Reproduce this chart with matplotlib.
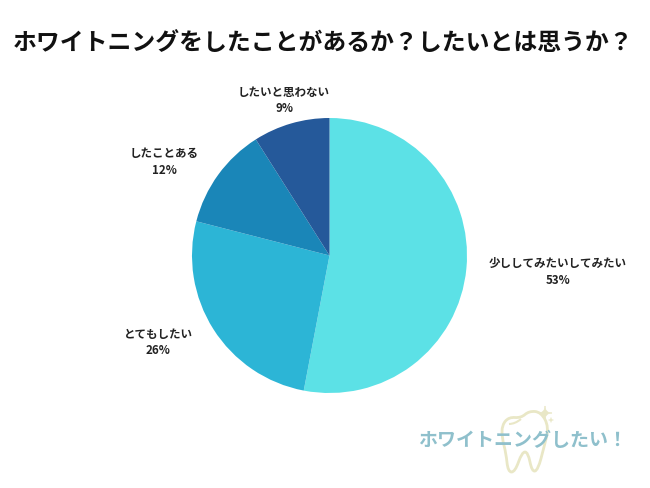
import matplotlib
matplotlib.use("Agg")
import matplotlib.pyplot as plt
from matplotlib.path import Path
from matplotlib.patches import PathPatch

plt.rcParams["font.family"] = "Noto Sans CJK JP"

TITLE = "ホワイトニングをしたことがあるか？したいとは思うか？"
categories = ["少ししてみたいしてみたい", "とてもしたい", "したことある", "したいと思わない"]
values = [53, 26, 12, 9]
colors = ["#5CE1E6", "#2CB5D6", "#1A86B8", "#25599A"]
label_pos = [(558, 271), (158, 342), (164, 161), (284, 100)]
W, H = 650, 488

fig = plt.figure(figsize=(W / 100, H / 100), dpi=100, facecolor="white")
ax = fig.add_axes([0, 0, 1, 1])
ax.pie(values, colors=colors, startangle=90, counterclock=False,
       center=(329.5, H - 255.5), radius=137.5, frame=True)
ax.set_xlim(0, W)
ax.set_ylim(0, H)
ax.set_aspect("equal")
ax.axis("off")

ax.text(323.5, H - 43.5, TITLE, ha="center", va="center", fontsize=17.2,
        fontweight="bold", color="#111111")

for name, val, (x, y) in zip(categories, values, label_pos):
    ax.text(x, H - y + 7.5, name, ha="center", va="center", fontsize=8.3,
            fontweight="bold", color="#222222")
    ax.text(x, H - y - 9, f"{val}%", ha="center", va="center", fontsize=8.3,
            fontweight="bold", color="#222222")


def smooth_closed(pts):
    """Closed quadratic spline through the midpoints of a decorative outline."""
    mids = [((a[0] + b[0]) / 2, (a[1] + b[1]) / 2) for a, b in zip(pts, pts[1:] + pts[:1])]
    verts, codes = [mids[-1]], [Path.MOVETO]
    for ctrl, mid in zip(pts, mids):
        verts += [ctrl, mid]
        codes += [Path.CURVE3, Path.CURVE3]
    return Path(verts, codes)


def sparkle(cx, cy, r):
    """Four-pointed star with concave sides, centred on a pixel position."""
    tips = [(cx, cy - r), (cx + r, cy), (cx, cy + r), (cx - r, cy)]
    verts, codes = [tips[0]], [Path.MOVETO]
    for tip in tips[1:] + tips[:1]:
        verts += [(cx, cy), tip]
        codes += [Path.CURVE3, Path.CURVE3]
    return Path([(x, H - y) for x, y in verts], codes)


# Watermark logo: tooth outline, sparkles and text (pixel positions, y downward)
tooth_px = [(502, 425), (509, 417), (521, 418), (529, 411), (541, 412), (549, 427),
            (544, 447), (538, 470), (532, 472), (528, 452), (522, 452),
            (515, 472), (508, 472), (506, 453), (502, 438)]
tooth = [(x, H - y) for x, y in tooth_px]
ax.add_patch(PathPatch(smooth_closed(tooth), fc="none", ec="#E9E7C6", lw=2.0))
inner = Path([(521, H - 419), (515, H - 424), (509, H - 424)],
             [Path.MOVETO, Path.CURVE3, Path.CURVE3])
ax.add_patch(PathPatch(inner, fc="none", ec="#E9E7C6", lw=1.5))
ax.add_patch(PathPatch(sparkle(545, 413, 7), fc="#E9E7C6", ec="#E9E7C6", lw=0.5))
ax.add_patch(PathPatch(sparkle(551, 420, 2.5), fc="#E9E7C6", ec="#E9E7C6", lw=0.3))
ax.text(523, H - 441, "ホワイトニングしたい！", ha="center", va="center", fontsize=13.7,
        fontweight="bold", color="#8FC0CC")

fig.savefig("out.png", dpi=100, facecolor="white")
